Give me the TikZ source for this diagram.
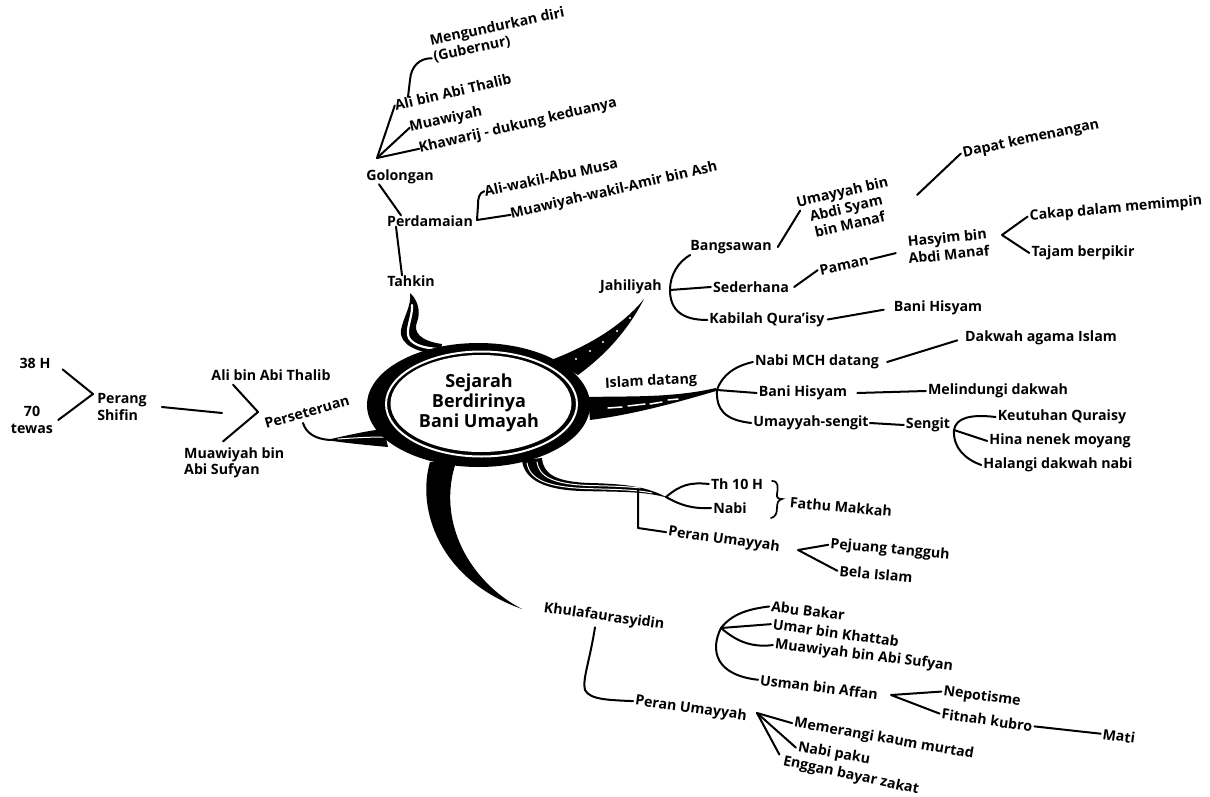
\documentclass[tikz,border=0pt]{standalone}
\usepackage{fontspec}
\setmainfont{Open Sans}
\begin{document}
\begin{tikzpicture}[x=1pt,y=-1pt,
  t/.style={inner sep=0pt, font=\fontsize{14.2}{16}\selectfont\bfseries},
  tm/.style={t, align=center, font=\fontsize{14.2}{17}\selectfont\bfseries},
  tl/.style={t, align=left, font=\fontsize{14.2}{16.5}\selectfont\bfseries},
  ln/.style={line width=2pt, line cap=round, line join=round},
  wht/.style={white, line width=1.3pt, line cap=round}]
\useasboundingbox (0,0) rectangle (1210,797);

%% ---------- thick branches ----------
% Tahkin
\fill (410,293) .. controls (418,300) and (421,312) .. (417,322) .. controls (413,332) and (420,341) .. (442,344) -- (440,354) .. controls (418,353) and (399,345) .. (401,330) .. controls (403,318) and (412,305) .. (410,293) -- cycle;
\draw[wht, line width=2.2pt] (412,305) .. controls (413,316) and (405,330) .. (409,338) .. controls (414,346) and (426,348) .. (438,349);
% Jahiliyah
\fill (644,299) .. controls (627,332) and (604,356) .. (578,375) -- (551,360) .. controls (588,346) and (622,326) .. (644,299) -- cycle;
\foreach \p in {(630,318),(617,331),(603,342),(590,351),(576,359)} \fill[white] \p circle (1.1);
% Islam datang
\fill (588,397) .. controls (630,396) and (672,398) .. (716,388) -- (716,391) .. controls (672,404) and (630,415) .. (590,420) -- cycle;
\draw[wht, line width=1.5pt] (608,408) -- (622,407) (628,406) -- (645,404) (650,404) -- (662,402) (668,400) -- (678,399);
% lower right
\fill (522,460) .. controls (524,480) and (545,490) .. (582,491) .. controls (620,492) and (645,491) .. (668,498) .. controls (648,487) and (628,484) .. (590,483) .. controls (556,482) and (543,474) .. (542,458) -- cycle;
\draw[wht, line width=1pt] (527,463) .. controls (530,480) and (548,487) .. (585,488.5) .. controls (615,489.5) and (635,489.5) .. (652,493);
\draw[wht, line width=1pt] (537,462) .. controls (539,476) and (552,484) .. (588,485.5) .. controls (612,486) and (628,486.5) .. (640,488);
% Khulafaurasyidin
\fill (430,462) .. controls (416,510) and (440,580) .. (522,609) .. controls (470,582) and (436,522) .. (456,462) -- cycle;
% Perseteruan
\fill (326,440) .. controls (345,436) and (365,431) .. (384,429) -- (388,447) .. controls (366,445) and (345,443) .. (326,440) -- cycle;
\draw[wht, line width=1pt] (338,439) .. controls (352,438) and (368,437) .. (384,437);
\draw[ln] (303,423) .. controls (306,433) and (315,439) .. (330,440);

%% ---------- central ellipse ----------
\fill (478.5,405) ellipse [x radius=111.5, y radius=62];
\draw[white, line width=2pt] (481.5,404) ellipse [x radius=95.5, y radius=52.5];
\fill[white] (481,403.5) ellipse [x radius=90.5, y radius=48.5];
\node[align=center, font=\fontsize{18}{20}\selectfont\bfseries] (center) at (479,403) {Sejarah\\Berdirinya\\Bani Umayah};

%% ---------- top cluster ----------
\node[tl, rotate=12] (meng) at (499,35) {Mengundurkan diri\\(Gubernur)};
\node[t, rotate=13] (ali1) at (453,92) {Ali bin Abi Thalib};
\node[t, rotate=12] (muaw1) at (446,120) {Muawiyah};
\node[t, rotate=13] (khaw) at (518,126) {Khawarij - dukung keduanya};
\node[t] (gol) at (400,177) {Golongan};
\node[t, rotate=12] (aliw) at (551,177) {Ali-wakil-Abu Musa};
\node[t, rotate=13] (muaww) at (614,191) {Muawiyah-wakil-Amir bin Ash};
\node[t] (perd) at (430,221) {Perdamaian};
\node[t] (tahkin) at (411,281) {Tahkin};
\coordinate (gv) at (377,158);
\coordinate (alitop) at (408,97);
\coordinate (pdv) at (477,220);
\draw[ln] (gv) -- (ali1.west);
\draw[ln] (gv) -- (muaw1.west);
\draw[ln] (gv) -- (khaw.west);
\draw[ln] (alitop) -- (410,80) .. controls (411,66) and (420,58) .. ([yshift=-9pt]meng.west);
\draw[ln] ([xshift=-21pt]gol.south) -- ([xshift=-29pt]perd.north);
\draw[ln] ([xshift=-34pt]perd.south) -- ([xshift=-9pt]tahkin.north);
\draw[ln] (aliw.west) .. controls (479,193) and (478,198) .. (478,205) -- (pdv) -- (muaww.west);

%% ---------- Jahiliyah cluster ----------
\node[t] (jah) at (631,287) {Jahiliyah};
\node[t] (bang) at (731,247) {Bangsawan};
\node[t] (sed) at (751,287) {Sederhana};
\node[t] (kab) at (767,320) {Kabilah Qura'isy};
\node[t] (bh1) at (938,308) {Bani Hisyam};
\node[tm, rotate=13] (umay) at (846,208) {Umayyah bin\\Abdi Syam\\bin Manaf};
\node[t, rotate=12] (dapat) at (1031,139) {Dapat kemenangan};
\node[t, rotate=12] (paman) at (844,265) {Paman};
\node[tm, rotate=6] (hasyim) at (948,246) {Hasyim bin\\Abdi Manaf};
\node[t, rotate=5] (cakap) at (1116,209) {Cakap dalam memimpin};
\node[t] (tajam) at (1083,253) {Tajam berpikir};
\coordinate (jv) at (670,290);
\coordinate (dl) at (917,195);
\coordinate (hv) at (1002,235);
\draw[ln] ([yshift=-1pt]bang.south west) .. controls (678,262) and (670,275) .. (jv) .. controls (670,310) and (682,320) .. ([xshift=-2pt]kab.west);
\draw[ln] (jv) -- ([xshift=-2pt]sed.west);
\draw[ln, shorten <=3pt, shorten >=10pt] (kab.east) -- (bh1.west);
\draw[ln] ([xshift=6pt]bang.east) -- ([yshift=8pt]umay.west);
\draw[ln] (dl) -- ([xshift=-2pt]dapat.west);
\draw[ln] ([xshift=5pt]sed.east) -- ([xshift=-2pt]paman.west);
\draw[ln, shorten <=2pt, shorten >=12pt] (paman.east) -- (hasyim.west);
\draw[ln] ([xshift=-2pt]cakap.west) -- (hv) -- ([xshift=-2pt]tajam.west);

%% ---------- Islam datang cluster ----------
\node[t, rotate=3] (islam) at (651,382) {Islam datang};
\coordinate (iv) at (717,390);
\node[t] (nabimch) at (817,362) {Nabi MCH datang};
\node[t] (dakwah) at (1041,338) {Dakwah agama Islam};
\node[t] (bh2) at (803,393) {Bani Hisyam};
\node[t] (melin) at (998,391) {Melindungi dakwah};
\node[t] (umsen) at (811,423) {Umayyah-sengit};
\node[t] (sengit) at (928,425) {Sengit};
\coordinate (sv) at (954,430);
\node[t] (keut) at (1062,417) {Keutuhan Quraisy};
\node[t] (hina) at (1060,441) {Hina nenek moyang};
\node[t] (halangi) at (1058,465) {Halangi dakwah nabi};
\draw[ln] (iv) .. controls (722,375) and (735,366) .. ([xshift=-2pt]nabimch.west);
\draw[ln] (iv) -- ([xshift=-2pt]bh2.west);
\draw[ln] (iv) .. controls (716,410) and (725,420) .. ([xshift=-2pt]umsen.west);
\draw[ln, shorten >=8pt] ([xshift=8pt]nabimch.east) -- (dakwah.west);
\draw[ln] ([xshift=10pt]bh2.east) -- ([xshift=-2pt]melin.west);
\draw[ln] ([xshift=1pt]umsen.east) -- ([xshift=-2pt]sengit.west);
\draw[ln] ([xshift=-2pt]keut.west) .. controls (970,414) and (956,418) .. (sv) -- ([xshift=-2pt]hina.west);
\draw[ln] (sv) .. controls (953,448) and (965,459) .. ([xshift=-2pt]halangi.west);

%% ---------- lower right ----------
\node[t] (th10) at (737,484) {Th 10 H};
\node[t] (nabi) at (730,508) {Nabi};
\coordinate (lv) at (666,497);
\draw[ln] (lv) .. controls (680,485) and (690,482) .. ([xshift=-2pt]th10.west);
\draw[ln] (lv) .. controls (680,505) and (692,509) .. ([xshift=-2pt]nabi.west);
\draw[line width=1.7pt, line cap=round] (772,481) .. controls (779,481) and (778,488) .. (777,494) .. controls (776,498) and (779,499) .. (782,499) .. controls (778,500) and (777,503) .. (777,508) .. controls (777,514) and (775,517) .. (771,518);
\node[t, rotate=-5] (fathu) at (841,507) {Fathu Makkah};
\node[t, rotate=-8] (peran1) at (724,540) {Peran Umayyah};
\coordinate (pc1) at (638,489);
\draw[ln] (pc1) -- (638,528) -- ([xshift=-2pt]peran1.west);
\node[t, rotate=-5] (pejuang) at (890,550) {Pejuang tangguh};
\node[t, rotate=-5] (bela) at (876,574) {Bela Islam};
\coordinate (pv1) at (798,550);
\draw[ln] ([xshift=-2pt]pejuang.west) -- (pv1) -- ([xshift=-2pt]bela.west);

%% ---------- Khulafaurasyidin ----------
\node[t, rotate=-8] (khul) at (604,617) {Khulafaurasyidin};
\node[t, rotate=-8] (peran2) at (691,709) {Peran Umayyah};
\draw[ln] ([xshift=-8pt,yshift=-3pt]khul.south) .. controls (590,660) and (582,680) .. (585,690) .. controls (590,700) and (610,700) .. ([xshift=-2pt]peran2.west);
\node[t, rotate=-7] (abu) at (808,611) {Abu Bakar};
\node[t, rotate=-8] (umar) at (836,633) {Umar bin Khattab};
\node[t, rotate=-7] (muaw3) at (864,656) {Muawiyah bin Abi Sufyan};
\node[t, rotate=-7] (usman) at (819,687) {Usman bin Affan};
\coordinate (kv) at (721,628);
\draw[ln] (kv) .. controls (732,614) and (748,609) .. ([xshift=-2pt]abu.west);
\draw[ln] (kv) -- ([xshift=-2pt]umar.west);
\draw[ln] (kv) .. controls (735,640) and (750,648) .. ([xshift=-2pt]muaw3.west);
\draw[ln] (kv) .. controls (710,650) and (715,675) .. ([xshift=-2pt]usman.west);
\coordinate (uv) at (891,695);
\node[t, rotate=-8] (nepo) at (982,697) {Nepotisme};
\node[t, rotate=-8] (fitnah) at (987,720) {Fitnah kubro};
\node[t, rotate=-8] (mati) at (1119,736) {Mati};
\draw[ln] ([xshift=-2pt]nepo.west) -- (uv) -- ([xshift=-2pt]fitnah.west);
\draw[ln] ([xshift=2pt]fitnah.east) -- ([xshift=-2pt]mati.west);
\coordinate (pv2) at (757,713);
\node[t, rotate=-10] (meme) at (884,739) {Memerangi kaum murtad};
\node[t, rotate=-10] (nabip) at (834,754) {Nabi paku};
\node[t, rotate=-12] (enggan) at (851,776) {Enggan bayar zakat};
\draw[ln] (pv2) -- ([xshift=-2pt]meme.west);
\draw[ln] (pv2) -- ([xshift=-2pt]nabip.west);
\draw[ln, shorten >=8pt] (pv2) -- (enggan.west);

%% ---------- left ----------
\node[t] (h38) at (35,363) {38 H};
\node[tm] (tewas) at (32,420) {70\\tewas};
\node[tl] (perang) at (122,407) {Perang\\Shifin};
\coordinate (pgv) at (93,394);
\draw[ln] ([xshift=12pt,yshift=-1pt]h38.south east) -- (pgv) -- ([xshift=5pt]tewas.east);
\coordinate (pse) at (222,413);
\draw[ln] ([xshift=15pt]perang.east) -- (pse);
\node[t] (ali2) at (271,375) {Ali bin Abi Thalib};
\node[tl, anchor=west] (muaw2) at (184,463) {Muawiyah bin\\Abi Sufyan};
\node[t, rotate=16] (perset) at (307,412) {Perseteruan};
\coordinate (fv) at (258,412);
\draw[ln] ([xshift=-38pt,yshift=-4pt]ali2.south) -- (fv) -- ([xshift=39pt,yshift=6pt]muaw2.north west);
\end{tikzpicture}
\end{document}
